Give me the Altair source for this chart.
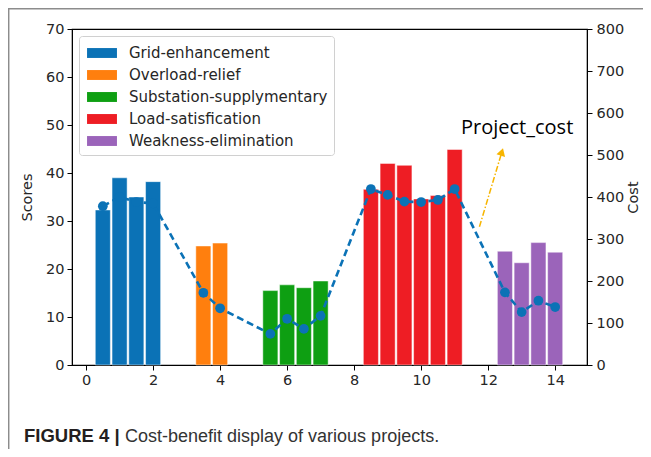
import altair as alt
import pandas as pd

# ---- data ----
bar_pos = [0.5, 1, 1.5, 2, 3.5, 4, 5.5, 6, 6.5, 7,
           8.5, 9, 9.5, 10, 10.5, 11, 12.5, 13, 13.5, 14]
scores = [32.3, 39.0, 35.0, 38.2, 24.8, 25.4, 15.5, 16.7, 16.1, 17.5,
          36.6, 42.0, 41.6, 34.6, 35.3, 44.9, 23.7, 21.3, 25.5, 23.5]
cost = [378, 400, 388, 385, 172, 135, 74, 110, 86, 117,
        419, 405, 389, 388, 393, 419, 173, 126, 153, 138]
categories = ["Grid-enhancement", "Overload-relief", "Substation-supplymentary",
              "Load-satisfication", "Weakness-elimination"]
group_sizes = [4, 2, 4, 6, 4]
colors = ["#0b72b6", "#ff7f0e", "#0e9f12", "#ee1d24", "#9b64ba"]

arrow_from = [11.74, 28.8]
arrow_to = [12.41, 44.4]
label_pos = [11.19, 48.2]

cat_col = [c for c, n in zip(categories, group_sizes) for _ in range(n)]
df = pd.DataFrame({"pos": bar_pos, "score": scores, "cost": cost, "category": cat_col})
arrow_df = pd.DataFrame({"x": [arrow_from[0]], "y": [arrow_from[1]],
                         "x2": [arrow_to[0]], "y2": [arrow_to[1]]})
head_df = pd.DataFrame({"x": [arrow_to[0]], "y": [arrow_to[1]]})
label_df = pd.DataFrame({"x": [label_pos[0]], "y": [label_pos[1]], "t": ["Project_cost"]})
dummy = pd.DataFrame({"a": [0]})

FONT = "DejaVu Sans"
W, H = 515, 336
TICKFS = 14.5

xscale = alt.Scale(domain=[-0.42, 14.95], nice=False, zero=False)
xaxis = alt.Axis(values=list(range(0, 15, 2)), grid=False, tickSize=5, labelPadding=3,
                 labelFontSize=TICKFS, labelFont=FONT, labelColor="#262626",
                 domainColor="black", tickColor="black", title=None)
lscale = alt.Scale(domain=[0, 70], nice=False)
laxis = alt.Axis(values=list(range(0, 71, 10)), grid=False, tickSize=5, labelPadding=3,
                 labelFontSize=TICKFS, labelFont=FONT, labelColor="#262626",
                 domainColor="black", tickColor="black", title="Scores",
                 titleFont=FONT, titleFontSize=14.5, titleFontWeight="normal",
                 titleColor="#262626", titlePadding=11)
rscale = alt.Scale(domain=[0, 800], nice=False)
raxis = alt.Axis(values=list(range(0, 801, 100)), orient="right", grid=False, tickSize=5,
                 labelPadding=4, labelFontSize=TICKFS, labelFont=FONT, labelColor="#262626",
                 domainColor="black", tickColor="black", title="Cost",
                 titleFont=FONT, titleFontSize=14.5, titleFontWeight="normal",
                 titleColor="#262626", titleAngle=270, titlePadding=17)

legend = alt.Legend(title=None, orient="none", legendX=7, legendY=7,
                    symbolType="M-1.36,-0.45H1.36V0.45H-1.36Z", symbolSize=484,
                    symbolStrokeWidth=0, symbolOffset=6, labelFont=FONT, labelFontSize=15,
                    labelColor="#262626", labelOffset=16, rowPadding=3,
                    padding=6, strokeColor="#d0d0d0", fillColor="white",
                    cornerRadius=3, labelLimit=400)

bars = alt.Chart(df).transform_calculate(
    x0="datum.pos - 0.225", x1="datum.pos + 0.225"
).mark_rect(stroke="white", strokeWidth=0.6, strokeOpacity=0.8).encode(
    x=alt.X("x0:Q", scale=xscale, axis=xaxis),
    x2="x1:Q",
    y=alt.Y("score:Q", scale=lscale, axis=laxis),
    y2=alt.datum(0),
    color=alt.Color("category:N", scale=alt.Scale(domain=categories, range=colors),
                    legend=legend, sort=categories),
)

gold = "#f7b500"
arrow = alt.Chart(arrow_df).mark_rule(color=gold, strokeWidth=1.5,
                                      strokeDash=[6, 2, 1.5, 2]).encode(
    x=alt.X("x:Q", scale=xscale, axis=xaxis),
    y=alt.Y("y:Q", scale=lscale, axis=laxis),
    x2="x2:Q", y2="y2:Q")
head = alt.Chart(head_df).mark_point(shape="triangle-up", filled=True, size=80,
                                     angle=17, color=gold, opacity=1).encode(
    x=alt.X("x:Q", scale=xscale, axis=xaxis),
    y=alt.Y("y:Q", scale=lscale, axis=laxis))
label = alt.Chart(label_df).mark_text(align="left", baseline="alphabetic", font="Open Sans",
                                      fontSize=20, color="black").encode(
    x=alt.X("x:Q", scale=xscale, axis=xaxis),
    y=alt.Y("y:Q", scale=lscale, axis=laxis),
    text="t:N")

left = alt.layer(bars, arrow, head, label)

line = alt.Chart(df).mark_line(color="#0b72b6", strokeWidth=2.6, strokeDash=[7, 4]).encode(
    x=alt.X("pos:Q", scale=xscale, axis=xaxis),
    y=alt.Y("cost:Q", scale=rscale, axis=raxis))
pts = alt.Chart(df).mark_circle(color="#0b72b6", size=95, opacity=1).encode(
    x=alt.X("pos:Q", scale=xscale, axis=xaxis),
    y=alt.Y("cost:Q", scale=rscale, axis=raxis))
right = alt.layer(line, pts)

CAPFONT = "Liberation Sans"
border_top = alt.Chart(dummy).mark_rule(color="#8c8c8c", strokeWidth=1.5).encode(
    x=alt.value(-64), x2=alt.value(700), y=alt.value(-20.3))
border_left = alt.Chart(dummy).mark_rule(color="#8c8c8c", strokeWidth=1.5).encode(
    x=alt.value(-63.3), y=alt.value(-21), y2=alt.value(450))
cap_bold = alt.Chart(dummy).mark_text(align="left", baseline="alphabetic",
                                      font=CAPFONT, fontSize=18.5,
                                      fontWeight="bold", color="#231f20",
                                      text="FIGURE 4 |").encode(
    x=alt.value(-48), y=alt.value(412.5))
cap_text = alt.Chart(dummy).mark_text(align="left", baseline="alphabetic",
                                      font=CAPFONT, fontSize=18,
                                      color="#333333",
                                      text="Cost-benefit display of various projects.").encode(
    x=alt.value(53), y=alt.value(412.5))
deco = alt.layer(border_top, border_left, cap_bold, cap_text)

chart = alt.layer(left, right, deco).resolve_scale(y="independent").properties(
    width=W, height=H,
    autosize=alt.AutoSizeParams(type="none"),
    padding={"left": 64, "top": 21, "right": 56, "bottom": 84},
).configure_view(stroke="black", strokeWidth=1.2)

chart.save("out.html", embed_options={"renderer": "svg", "actions": False})
